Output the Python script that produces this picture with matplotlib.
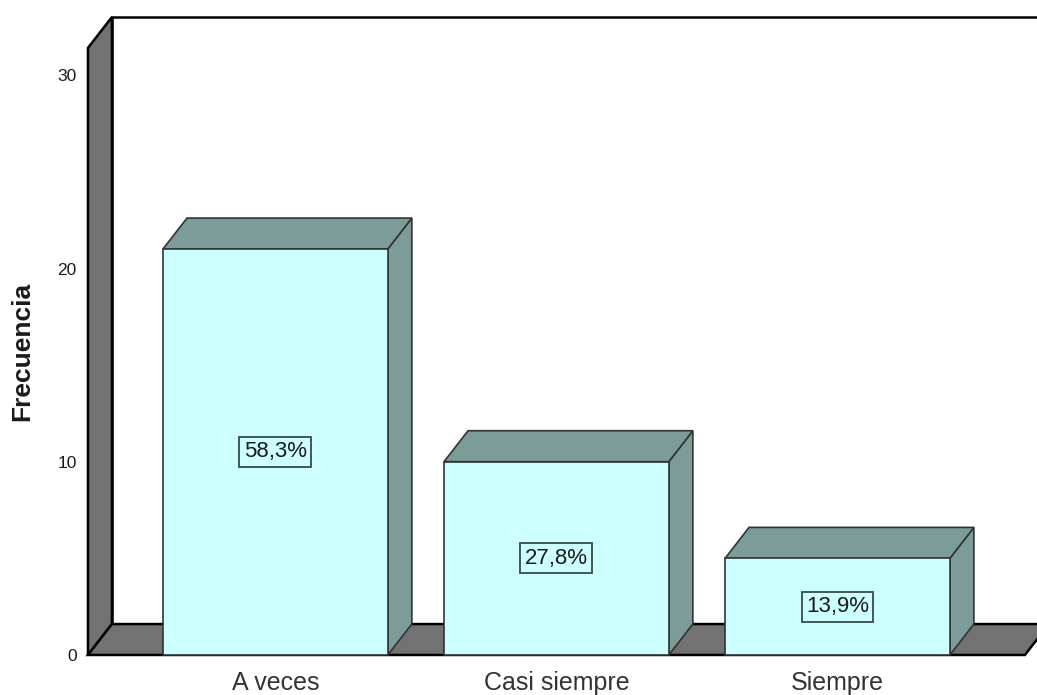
import matplotlib.pyplot as plt
from matplotlib.patches import Polygon

plt.rcParams['font.family'] = ['Liberation Sans', 'DejaVu Sans']

# Datos
categorias = ['A veces', 'Casi siempre', 'Siempre']
frecuencias = [21, 10, 5]
ticks_y = [0, 10, 20, 30]

total = sum(frecuencias)
etiquetas = [f"{100 * f / total:.1f}".replace('.', ',') + '%' for f in frecuencias]

# Parametros de dibujo
ancho = 0.8
dx, dy = 0.0854, 1.6          # profundidad 3D
color_frente = '#CCFFFF'
color_lado = '#7B9C98'
color_pared = '#727272'
x_izq = -0.667
x_der = 2.667
y_max = 31.4

fig = plt.figure(figsize=(10.37, 6.95), dpi=100)
ax = fig.add_axes([0, 0, 1, 1])
ax.set_xlim(-0.980, 2.710)
ax.set_ylim(-2.07, 33.88)
ax.axis('off')

# Pared del fondo
ax.add_patch(Polygon([(x_izq + dx, dy), (x_izq + dx, y_max + dy), (3.2, y_max + dy), (3.2, dy)],
                     closed=True, facecolor='white', edgecolor='black', lw=1.8))
# Pared lateral
ax.add_patch(Polygon([(x_izq, 0), (x_izq, y_max), (x_izq + dx, y_max + dy), (x_izq + dx, dy)],
                     closed=True, facecolor=color_pared, edgecolor='black', lw=1.8))
# Suelo
ax.add_patch(Polygon([(x_izq, 0), (x_der, 0), (x_der + dx, dy), (x_izq + dx, dy)],
                     closed=True, facecolor=color_pared, edgecolor='black', lw=1.8))

# Barras 3D
for i, (h, lab) in enumerate(zip(frecuencias, etiquetas)):
    x0 = i - ancho / 2
    x1 = i + ancho / 2
    ax.add_patch(Polygon([(x1, 0), (x1 + dx, dy), (x1 + dx, h + dy), (x1, h)],
                         closed=True, facecolor=color_lado, edgecolor='#333333', lw=1.2))
    ax.add_patch(Polygon([(x0, h), (x0 + dx, h + dy), (x1 + dx, h + dy), (x1, h)],
                         closed=True, facecolor=color_lado, edgecolor='#333333', lw=1.2))
    ax.add_patch(Polygon([(x0, 0), (x0, h), (x1, h), (x1, 0)],
                         closed=True, facecolor=color_frente, edgecolor='#333333', lw=1.2))
    ax.text(i, h / 2, lab, ha='center', va='center', fontsize=16, color='#1a1a1a',
            bbox=dict(boxstyle='square,pad=0.2', facecolor=color_frente, edgecolor='#3a4a48', lw=1.3))
    ax.text(i, -1.81, categorias[i], ha='center', va='baseline', fontsize=18, color='#333333')

# Eje Y
for t in ticks_y:
    ax.text(-0.707, t - 0.1, str(t), ha='right', va='center',
            fontsize=12.5, color='#1a1a1a')
ax.text(-0.902, 15.7, 'Frecuencia', rotation=90, ha='center', va='center',
        fontsize=19, fontweight='bold', color='#1a1a1a')

plt.savefig('out.png', dpi=100)
